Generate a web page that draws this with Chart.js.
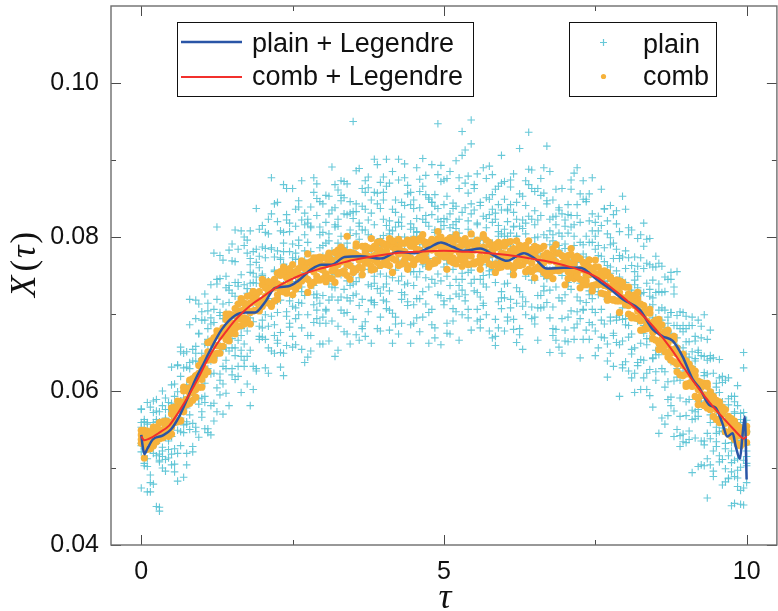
<!DOCTYPE html>
<html>
<head>
<meta charset="utf-8">
<script src="https://cdn.jsdelivr.net/npm/chart.js@4.4.1/dist/chart.umd.min.js"></script>
<style>
  html, body { margin: 0; padding: 0; background: #fff; overflow: hidden; }
  #wrap { position: relative; width: 782px; height: 611px; }
  canvas { display: block; }
</style>
</head>
<body>
<div id="wrap"><canvas id="chart" width="782" height="611"></canvas></div>
<script>
// Sampling grid in tau shared by the scattered samples
const tau = [
  0,0.05,0.1,0.15,0.2,0.25,0.3,0.35,0.4,0.45,
  0.5,0.55,0.6,0.65,0.7,0.75,0.8,0.85,0.9,0.95,
  1,1.05,1.1,1.15,1.2,1.25,1.3,1.35,1.4,1.45,
  1.5,1.55,1.6,1.65,1.7,1.75,1.8,1.85,1.9,1.95,
  2,2.05,2.1,2.15,2.2,2.25,2.3,2.35,2.4,2.45,
  2.5,2.55,2.6,2.65,2.7,2.75,2.8,2.85,2.9,2.95,
  3,3.05,3.1,3.15,3.2,3.25,3.3,3.35,3.4,3.45,
  3.5,3.55,3.6,3.65,3.7,3.75,3.8,3.85,3.9,3.95,
  4,4.05,4.1,4.15,4.2,4.25,4.3,4.35,4.4,4.45,
  4.5,4.55,4.6,4.65,4.7,4.75,4.8,4.85,4.9,4.95,
  5,5.05,5.1,5.15,5.2,5.25,5.3,5.35,5.4,5.45,
  5.5,5.55,5.6,5.65,5.7,5.75,5.8,5.85,5.9,5.95,
  6,6.05,6.1,6.15,6.2,6.25,6.3,6.35,6.4,6.45,
  6.5,6.55,6.6,6.65,6.7,6.75,6.8,6.85,6.9,6.95,
  7,7.05,7.1,7.15,7.2,7.25,7.3,7.35,7.4,7.45,
  7.5,7.55,7.6,7.65,7.7,7.75,7.8,7.85,7.9,7.95,
  8,8.05,8.1,8.15,8.2,8.25,8.3,8.35,8.4,8.45,
  8.5,8.55,8.6,8.65,8.7,8.75,8.8,8.85,8.9,8.95,
  9,9.05,9.1,9.15,9.2,9.25,9.3,9.35,9.4,9.45,
  9.5,9.55,9.6,9.65,9.7,9.75,9.8,9.85,9.9,9.95,
  10
];

// "plain" estimator samples, eight realisations per tau
const plainA = [
  0.0521,0.0551,0.0469,0.0547,0.0538,0.0574,0.0518,0.0559,0.0496,0.0576,
  0.0584,0.0525,0.0633,0.0562,0.0591,0.0519,0.0629,0.0597,0.0658,0.0590,
  0.0591,0.0692,0.0629,0.0738,0.0584,0.0813,0.0622,0.0677,0.0749,0.0581,
  0.0727,0.0615,0.0711,0.0672,0.0800,0.0702,0.0772,0.0602,0.0740,0.0671,
  0.0670,0.0744,0.0804,0.0697,0.0738,0.0845,0.0650,0.0781,0.0728,0.0807,
  0.0863,0.0708,0.0771,0.0682,0.0803,0.0746,0.0839,0.0725,0.0760,0.0661,
  0.0724,0.0819,0.0665,0.0782,0.0838,0.0753,0.0705,0.0872,0.0743,0.0809,
  0.0950,0.0726,0.0797,0.0684,0.0836,0.0781,0.0662,0.0816,0.0759,0.0871,
  0.0718,0.0815,0.0762,0.0885,0.0696,0.0800,0.0845,0.0738,0.0791,0.0662,
  0.0801,0.0695,0.0838,0.0770,0.0880,0.0735,0.0788,0.0855,0.0752,0.0660,
  0.0761,0.0876,0.0720,0.0816,0.0789,0.0666,0.0832,0.0772,0.0857,0.0740,
  0.0835,0.0706,0.0798,0.0750,0.0876,0.0773,0.0819,0.0659,0.0842,0.0729,
  0.0721,0.0801,0.0865,0.0758,0.0823,0.0681,0.0784,0.0841,0.0936,0.0887,
  0.0790,0.0708,0.0876,0.0730,0.0843,0.0757,0.0672,0.0816,0.0789,0.0717,
  0.0725,0.0842,0.0749,0.0883,0.0687,0.0773,0.0705,0.0846,0.0730,0.0808,
  0.0784,0.0656,0.0815,0.0723,0.0742,0.0841,0.0672,0.0756,0.0593,0.0774,
  0.0694,0.0803,0.0648,0.0722,0.0762,0.0602,0.0728,0.0685,0.0764,0.0643,
  0.0728,0.0545,0.0692,0.0605,0.0745,0.0638,0.0685,0.0550,0.0647,0.0702,
  0.0586,0.0685,0.0607,0.0639,0.0502,0.0611,0.0535,0.0667,0.0559,0.0623,
  0.0545,0.0598,0.0511,0.0567,0.0486,0.0593,0.0533,0.0497,0.0563,0.0452,
  0.0522
];
const plainB = [
  0.0576,0.0528,0.0512,0.0491,0.0559,0.0532,0.0551,0.0515,0.0591,0.0535,
  0.0504,0.0577,0.0549,0.0657,0.0546,0.0608,0.0587,0.0654,0.0547,0.0623,
  0.0640,0.0551,0.0681,0.0622,0.0657,0.0604,0.0776,0.0654,0.0629,0.0715,
  0.0668,0.0723,0.0632,0.0808,0.0661,0.0779,0.0695,0.0722,0.0626,0.0775,
  0.0750,0.0630,0.0720,0.0784,0.0672,0.0747,0.0773,0.0620,0.0822,0.0717,
  0.0724,0.0814,0.0699,0.0764,0.0637,0.0793,0.0741,0.0858,0.0694,0.0786,
  0.0843,0.0743,0.0795,0.0691,0.0770,0.0861,0.0722,0.0758,0.0829,0.0661,
  0.0739,0.0843,0.0711,0.0787,0.0768,0.0878,0.0736,0.0858,0.0681,0.0798,
  0.0802,0.0707,0.0870,0.0747,0.0793,0.0674,0.0826,0.0783,0.0716,0.0858,
  0.0737,0.0796,0.0755,0.0866,0.0713,0.0814,0.0894,0.0767,0.0823,0.0786,
  0.0842,0.0749,0.0799,0.0691,0.0899,0.0805,0.0731,0.0870,0.0754,0.0921,
  0.0767,0.0816,0.0693,0.0890,0.0735,0.0849,0.0758,0.0787,0.0682,0.0804,
  0.0810,0.0696,0.0752,0.0832,0.0663,0.0790,0.0853,0.0768,0.0868,0.0709,
  0.0687,0.0800,0.0755,0.0857,0.0715,0.0885,0.0773,0.0735,0.0657,0.0830,
  0.0814,0.0736,0.0828,0.0667,0.0767,0.0643,0.0790,0.0747,0.0856,0.0686,
  0.0702,0.0808,0.0739,0.0836,0.0661,0.0753,0.0772,0.0696,0.0807,0.0708,
  0.0759,0.0670,0.0731,0.0598,0.0708,0.0773,0.0640,0.0797,0.0668,0.0695,
  0.0647,0.0739,0.0565,0.0682,0.0612,0.0754,0.0637,0.0698,0.0567,0.0626,
  0.0648,0.0589,0.0696,0.0539,0.0650,0.0583,0.0699,0.0545,0.0642,0.0489,
  0.0589,0.0508,0.0575,0.0525,0.0590,0.0533,0.0454,0.0556,0.0501,0.0650,
  0.0503
];
const plainC = [
  0.0532,0.0563,0.0540,0.0524,0.0479,0.0589,0.0508,0.0527,0.0565,0.0552,
  0.0562,0.0609,0.0483,0.0547,0.0649,0.0578,0.0686,0.0558,0.0718,0.0540,
  0.0692,0.0643,0.0546,0.0695,0.0623,0.0745,0.0659,0.0609,0.0702,0.0694,
  0.0769,0.0682,0.0741,0.0645,0.0716,0.0609,0.0740,0.0781,0.0714,0.0684,
  0.0711,0.0773,0.0684,0.0877,0.0755,0.0662,0.0733,0.0806,0.0703,0.0753,
  0.0791,0.0742,0.0839,0.0714,0.0770,0.0672,0.0812,0.0737,0.0828,0.0714,
  0.0755,0.0704,0.0830,0.0774,0.0645,0.0792,0.0854,0.0732,0.0783,0.0717,
  0.0824,0.0757,0.0889,0.0719,0.0809,0.0703,0.0783,0.0749,0.0843,0.0727,
  0.0858,0.0786,0.0730,0.0836,0.0757,0.0819,0.0688,0.0895,0.0773,0.0810,
  0.0848,0.0824,0.0677,0.0790,0.0762,0.0702,0.0745,0.0840,0.0947,0.0724,
  0.0786,0.0853,0.0737,0.0837,0.0703,0.0823,0.0937,0.0717,0.0810,0.0679,
  0.0868,0.0728,0.0782,0.0827,0.0764,0.0678,0.0855,0.0741,0.0801,0.0906,
  0.0770,0.0820,0.0788,0.0680,0.0801,0.0915,0.0722,0.0804,0.0756,0.0778,
  0.0816,0.0778,0.0724,0.0749,0.0918,0.0695,0.0803,0.0862,0.0762,0.0778,
  0.0665,0.0776,0.0704,0.0789,0.0842,0.0717,0.0873,0.0679,0.0793,0.0753,
  0.0761,0.0725,0.0862,0.0687,0.0804,0.0696,0.0632,0.0817,0.0735,0.0853,
  0.0638,0.0724,0.0809,0.0744,0.0633,0.0726,0.0818,0.0660,0.0594,0.0744,
  0.0775,0.0678,0.0629,0.0557,0.0688,0.0581,0.0726,0.0618,0.0681,0.0544,
  0.0533,0.0628,0.0563,0.0626,0.0586,0.0669,0.0620,0.0578,0.0504,0.0585,
  0.0528,0.0576,0.0611,0.0482,0.0549,0.0495,0.0573,0.0512,0.0471,0.0556,
  0.0547
];
const plainD = [
  0.0553,0.0506,0.0557,0.0534,0.0572,0.0450,0.0449,0.0600,0.0540,0.0513,
  0.0541,0.0505,0.0599,0.0587,0.0488,0.0631,0.0569,0.0617,0.0608,0.0675,
  0.0624,0.0593,0.0714,0.0543,0.0706,0.0646,0.0702,0.0770,0.0597,0.0731,
  0.0629,0.0809,0.0666,0.0704,0.0632,0.0733,0.0581,0.0753,0.0767,0.0810,
  0.0815,0.0699,0.0743,0.0652,0.0774,0.0717,0.0808,0.0738,0.0863,0.0688,
  0.0671,0.0779,0.0740,0.0873,0.0724,0.0818,0.0652,0.0764,0.0721,0.0813,
  0.0789,0.0854,0.0739,0.0722,0.0816,0.0684,0.0770,0.0830,0.0702,0.0846,
  0.0693,0.0804,0.0763,0.0863,0.0671,0.0822,0.0848,0.0712,0.0779,0.0752,
  0.0765,0.0901,0.0809,0.0701,0.0848,0.0743,0.0784,0.0725,0.0867,0.0755,
  0.0688,0.0807,0.0859,0.0729,0.0828,0.0793,0.0845,0.0682,0.0774,0.0872,
  0.0712,0.0770,0.0885,0.0758,0.0820,0.0723,0.0763,0.0913,0.0695,0.0952,
  0.0745,0.0795,0.0841,0.0714,0.0812,0.0829,0.0669,0.0862,0.0770,0.0707,
  0.0849,0.0740,0.0708,0.0813,0.0778,0.0729,0.0654,0.0873,0.0827,0.0744,
  0.0744,0.0863,0.0828,0.0771,0.0758,0.0808,0.0709,0.0680,0.0835,0.0649,
  0.0785,0.0696,0.0862,0.0745,0.0722,0.0819,0.0746,0.0801,0.0667,0.0877,
  0.0646,0.0776,0.0706,0.0786,0.0763,0.0649,0.0745,0.0663,0.0776,0.0665,
  0.0836,0.0699,0.0674,0.0774,0.0734,0.0641,0.0685,0.0740,0.0723,0.0579,
  0.0614,0.0647,0.0728,0.0705,0.0650,0.0702,0.0541,0.0658,0.0591,0.0656,
  0.0681,0.0537,0.0651,0.0564,0.0692,0.0535,0.0591,0.0622,0.0598,0.0522,
  0.0610,0.0547,0.0548,0.0614,0.0516,0.0562,0.0489,0.0607,0.0536,0.0630,
  0.0481
];
const plainE = [
  0.0474,0.0540,0.0585,0.0469,0.0550,0.0560,0.0444,0.0522,0.0576,0.0560,
  0.0631,0.0560,0.0578,0.0529,0.0604,0.0557,0.0719,0.0521,0.0649,0.0713,
  0.0566,0.0661,0.0659,0.0639,0.0779,0.0573,0.0614,0.0713,0.0684,0.0652,
  0.0694,0.0646,0.0784,0.0681,0.0738,0.0645,0.0764,0.0690,0.0837,0.0712,
  0.0692,0.0785,0.0623,0.0740,0.0686,0.0820,0.0676,0.0765,0.0659,0.0781,
  0.0756,0.0660,0.0796,0.0735,0.0831,0.0699,0.0781,0.0689,0.0869,0.0761,
  0.0696,0.0775,0.0804,0.0891,0.0734,0.0814,0.0751,0.0677,0.0869,0.0766,
  0.0782,0.0673,0.0818,0.0752,0.0858,0.0738,0.0718,0.0901,0.0733,0.0837,
  0.0823,0.0749,0.0679,0.0795,0.0813,0.0874,0.0719,0.0800,0.0740,0.0842,
  0.0812,0.0720,0.0786,0.0902,0.0747,0.0851,0.0706,0.0809,0.0725,0.0820,
  0.0824,0.0675,0.0812,0.0795,0.0726,0.0863,0.0745,0.0786,0.0879,0.0764,
  0.0787,0.0882,0.0722,0.0801,0.0699,0.0751,0.0792,0.0823,0.0716,0.0870,
  0.0678,0.0836,0.0805,0.0786,0.0714,0.0856,0.0811,0.0699,0.0775,0.0823,
  0.0834,0.0666,0.0762,0.0709,0.0799,0.0790,0.0848,0.0777,0.0721,0.0863,
  0.0770,0.0805,0.0732,0.0816,0.0890,0.0740,0.0667,0.0774,0.0821,0.0706,
  0.0819,0.0754,0.0670,0.0743,0.0618,0.0790,0.0829,0.0740,0.0698,0.0630,
  0.0724,0.0626,0.0763,0.0656,0.0798,0.0715,0.0617,0.0623,0.0798,0.0712,
  0.0695,0.0766,0.0663,0.0748,0.0568,0.0675,0.0654,0.0755,0.0542,0.0677,
  0.0629,0.0664,0.0494,0.0671,0.0567,0.0504,0.0645,0.0461,0.0679,0.0565,
  0.0567,0.0641,0.0478,0.0547,0.0617,0.0451,0.0586,0.0476,0.0571,0.0510,
  0.0562
];
const plainF = [
  0.0559,0.0503,0.0542,0.0579,0.0519,0.0538,0.0573,0.0500,0.0563,0.0539,
  0.0518,0.0593,0.0634,0.0565,0.0630,0.0504,0.0605,0.0639,0.0553,0.0638,
  0.0703,0.0610,0.0551,0.0687,0.0662,0.0719,0.0595,0.0694,0.0640,0.0783,
  0.0621,0.0741,0.0714,0.0598,0.0789,0.0678,0.0754,0.0706,0.0784,0.0667,
  0.0752,0.0667,0.0823,0.0741,0.0649,0.0782,0.0718,0.0868,0.0697,0.0750,
  0.0657,0.0771,0.0715,0.0822,0.0754,0.0644,0.0814,0.0770,0.0705,0.0846,
  0.0806,0.0688,0.0775,0.0735,0.0868,0.0718,0.0847,0.0786,0.0674,0.0802,
  0.0752,0.0833,0.0666,0.0809,0.0767,0.0864,0.0717,0.0783,0.0894,0.0696,
  0.0848,0.0739,0.0804,0.0662,0.0832,0.0770,0.0814,0.0877,0.0711,0.0794,
  0.0755,0.0890,0.0720,0.0823,0.0778,0.0849,0.0686,0.0806,0.0837,0.0743,
  0.0874,0.0765,0.0830,0.0707,0.0811,0.0737,0.0906,0.0725,0.0792,0.0843,
  0.0730,0.0818,0.0682,0.0796,0.0851,0.0756,0.0836,0.0671,0.0807,0.0781,
  0.0801,0.0691,0.0842,0.0882,0.0734,0.0787,0.0710,0.0818,0.0753,0.0863,
  0.0696,0.0822,0.0775,0.0736,0.0847,0.0650,0.0795,0.0827,0.0805,0.0750,
  0.0822,0.0741,0.0874,0.0682,0.0775,0.0793,0.0706,0.0849,0.0689,0.0720,
  0.0735,0.0827,0.0692,0.0768,0.0639,0.0799,0.0740,0.0692,0.0772,0.0742,
  0.0782,0.0685,0.0728,0.0623,0.0749,0.0803,0.0675,0.0766,0.0628,0.0721,
  0.0653,0.0729,0.0762,0.0625,0.0677,0.0592,0.0735,0.0629,0.0703,0.0534,
  0.0664,0.0548,0.0632,0.0665,0.0576,0.0684,0.0503,0.0598,0.0538,0.0643,
  0.0553,0.0617,0.0552,0.0499,0.0582,0.0558,0.0510,0.0581,0.0453,0.0548,
  0.0530
];
const plainG = [
  0.0529,0.0560,0.0502,0.0548,0.0587,0.0516,0.0560,0.0541,0.0511,0.0585,
  0.0608,0.0495,0.0586,0.0619,0.0556,0.0651,0.0550,0.0607,0.0694,0.0583,
  0.0573,0.0726,0.0667,0.0581,0.0689,0.0647,0.0746,0.0570,0.0734,0.0673,
  0.0791,0.0656,0.0619,0.0751,0.0685,0.0796,0.0653,0.0741,0.0629,0.0760,
  0.0682,0.0806,0.0714,0.0786,0.0843,0.0666,0.0771,0.0649,0.0760,0.0818,
  0.0773,0.0694,0.0847,0.0729,0.0816,0.0761,0.0672,0.0877,0.0726,0.0803,
  0.0661,0.0792,0.0718,0.0835,0.0751,0.0823,0.0873,0.0701,0.0792,0.0737,
  0.0833,0.0742,0.0814,0.0681,0.0873,0.0758,0.0800,0.0715,0.0857,0.0787,
  0.0735,0.0866,0.0705,0.0808,0.0787,0.0901,0.0728,0.0841,0.0760,0.0686,
  0.0837,0.0748,0.0799,0.0696,0.0855,0.0772,0.0829,0.0669,0.0881,0.0810,
  0.0717,0.0823,0.0674,0.0803,0.0840,0.0877,0.0753,0.0793,0.0706,0.0830,
  0.0797,0.0691,0.0845,0.0739,0.0787,0.0892,0.0767,0.0831,0.0866,0.0721,
  0.0872,0.0780,0.0719,0.0814,0.0845,0.0673,0.0822,0.0749,0.0783,0.0694,
  0.0799,0.0724,0.0854,0.0890,0.0746,0.0823,0.0681,0.0761,0.0838,0.0801,
  0.0679,0.0829,0.0770,0.0801,0.0703,0.0856,0.0778,0.0715,0.0760,0.0830,
  0.0801,0.0729,0.0775,0.0669,0.0821,0.0691,0.0792,0.0834,0.0660,0.0693,
  0.0686,0.0812,0.0654,0.0738,0.0691,0.0662,0.0759,0.0602,0.0709,0.0761,
  0.0761,0.0655,0.0708,0.0676,0.0589,0.0702,0.0613,0.0669,0.0528,0.0685,
  0.0568,0.0644,0.0685,0.0573,0.0653,0.0587,0.0624,0.0512,0.0646,0.0597,
  0.0605,0.0516,0.0586,0.0570,0.0487,0.0522,0.0593,0.0530,0.0559,0.0474,
  0.0506
];
const plainH = [
  0.0577,0.0532,0.0559,0.0481,0.0551,0.0563,0.0510,0.0581,0.0555,0.0524,
  0.0541,0.0577,0.0519,0.0651,0.0588,0.0560,0.0637,0.0528,0.0639,0.0674,
  0.0649,0.0585,0.0704,0.0662,0.0561,0.0739,0.0698,0.0632,0.0656,0.0737,
  0.0656,0.0768,0.0736,0.0653,0.0640,0.0727,0.0808,0.0632,0.0748,0.0728,
  0.0787,0.0734,0.0656,0.0830,0.0757,0.0702,0.0631,0.0792,0.0829,0.0683,
  0.0710,0.0836,0.0789,0.0654,0.0782,0.0823,0.0737,0.0712,0.0850,0.0688,
  0.0775,0.0706,0.0853,0.0754,0.0813,0.0653,0.0801,0.0851,0.0721,0.0831,
  0.0724,0.0886,0.0747,0.0840,0.0690,0.0803,0.0831,0.0740,0.0789,0.0678,
  0.0878,0.0716,0.0821,0.0797,0.0687,0.0819,0.0749,0.0768,0.0856,0.0817,
  0.0712,0.0806,0.0875,0.0764,0.0819,0.0662,0.0845,0.0740,0.0790,0.0893,
  0.0815,0.0688,0.0789,0.0844,0.0745,0.0797,0.0699,0.0838,0.0821,0.0757,
  0.0863,0.0792,0.0745,0.0711,0.0824,0.0773,0.0881,0.0693,0.0815,0.0835,
  0.0739,0.0834,0.0874,0.0693,0.0801,0.0814,0.0781,0.0716,0.0888,0.0775,
  0.0859,0.0786,0.0708,0.0803,0.0777,0.0731,0.0826,0.0666,0.0783,0.0694,
  0.0791,0.0664,0.0813,0.0762,0.0828,0.0694,0.0849,0.0768,0.0725,0.0793,
  0.0678,0.0789,0.0753,0.0837,0.0719,0.0761,0.0675,0.0784,0.0748,0.0634,
  0.0741,0.0773,0.0617,0.0755,0.0637,0.0727,0.0788,0.0668,0.0732,0.0642,
  0.0625,0.0705,0.0653,0.0729,0.0696,0.0745,0.0574,0.0685,0.0614,0.0647,
  0.0697,0.0611,0.0575,0.0642,0.0612,0.0646,0.0530,0.0640,0.0569,0.0496,
  0.0534,0.0582,0.0619,0.0532,0.0565,0.0507,0.0571,0.0487,0.0536,0.0572,
  0.0515
];

// "comb" estimator samples, four realisations per tau
const combA = [
  0.0549,0.0531,0.0548,0.0536,0.0550,0.0534,0.0550,0.0560,0.0544,0.0560,
  0.0553,0.0579,0.0560,0.0580,0.0600,0.0582,0.0597,0.0588,0.0620,0.0623,
  0.0630,0.0621,0.0651,0.0642,0.0669,0.0659,0.0649,0.0680,0.0678,0.0673,
  0.0699,0.0688,0.0703,0.0685,0.0706,0.0723,0.0702,0.0719,0.0705,0.0729,
  0.0717,0.0738,0.0714,0.0738,0.0734,0.0725,0.0755,0.0737,0.0753,0.0736,
  0.0752,0.0732,0.0759,0.0749,0.0766,0.0745,0.0758,0.0773,0.0744,0.0759,
  0.0757,0.0773,0.0747,0.0770,0.0756,0.0783,0.0768,0.0756,0.0801,0.0763,
  0.0779,0.0757,0.0775,0.0788,0.0766,0.0775,0.0762,0.0788,0.0774,0.0783,
  0.0766,0.0782,0.0793,0.0772,0.0789,0.0763,0.0782,0.0792,0.0776,0.0788,
  0.0788,0.0771,0.0798,0.0777,0.0793,0.0767,0.0783,0.0791,0.0769,0.0787,
  0.0774,0.0796,0.0780,0.0792,0.0765,0.0787,0.0770,0.0798,0.0782,0.0775,
  0.0790,0.0768,0.0784,0.0803,0.0772,0.0780,0.0763,0.0786,0.0775,0.0790,
  0.0771,0.0793,0.0763,0.0777,0.0784,0.0763,0.0788,0.0769,0.0779,0.0755,
  0.0779,0.0761,0.0785,0.0767,0.0779,0.0753,0.0771,0.0779,0.0758,0.0765,
  0.0760,0.0776,0.0751,0.0766,0.0775,0.0745,0.0757,0.0738,0.0761,0.0754,
  0.0761,0.0738,0.0749,0.0726,0.0754,0.0732,0.0741,0.0717,0.0728,0.0736,
  0.0712,0.0726,0.0698,0.0711,0.0720,0.0691,0.0703,0.0691,0.0701,0.0668,
  0.0689,0.0662,0.0686,0.0659,0.0662,0.0669,0.0638,0.0648,0.0621,0.0642,
  0.0622,0.0635,0.0606,0.0620,0.0590,0.0605,0.0610,0.0587,0.0592,0.0567,
  0.0582,0.0559,0.0579,0.0558,0.0567,0.0545,0.0561,0.0542,0.0550,0.0532,
  0.0546
];
const combB = [
  0.0532,0.0549,0.0535,0.0546,0.0529,0.0547,0.0538,0.0549,0.0561,0.0550,
  0.0570,0.0562,0.0578,0.0561,0.0581,0.0603,0.0584,0.0609,0.0602,0.0633,
  0.0615,0.0641,0.0640,0.0665,0.0646,0.0673,0.0671,0.0658,0.0693,0.0685,
  0.0680,0.0707,0.0684,0.0704,0.0687,0.0706,0.0724,0.0704,0.0725,0.0717,
  0.0738,0.0723,0.0734,0.0713,0.0745,0.0739,0.0730,0.0754,0.0727,0.0751,
  0.0736,0.0752,0.0742,0.0766,0.0747,0.0766,0.0737,0.0755,0.0765,0.0744,
  0.0773,0.0752,0.0767,0.0746,0.0780,0.0764,0.0754,0.0776,0.0764,0.0780,
  0.0754,0.0777,0.0761,0.0774,0.0788,0.0766,0.0785,0.0770,0.0793,0.0763,
  0.0791,0.0764,0.0776,0.0787,0.0770,0.0785,0.0765,0.0781,0.0796,0.0773,
  0.0767,0.0784,0.0773,0.0795,0.0780,0.0792,0.0765,0.0788,0.0798,0.0776,
  0.0794,0.0775,0.0798,0.0767,0.0784,0.0771,0.0789,0.0778,0.0764,0.0793,
  0.0765,0.0789,0.0775,0.0770,0.0796,0.0765,0.0785,0.0790,0.0760,0.0779,
  0.0788,0.0773,0.0782,0.0759,0.0767,0.0789,0.0773,0.0785,0.0758,0.0777,
  0.0758,0.0786,0.0766,0.0776,0.0750,0.0777,0.0756,0.0768,0.0779,0.0758,
  0.0773,0.0755,0.0764,0.0746,0.0753,0.0772,0.0738,0.0765,0.0751,0.0737,
  0.0738,0.0761,0.0727,0.0749,0.0736,0.0748,0.0718,0.0735,0.0743,0.0717,
  0.0735,0.0711,0.0720,0.0695,0.0704,0.0713,0.0680,0.0703,0.0682,0.0689,
  0.0666,0.0682,0.0667,0.0677,0.0644,0.0654,0.0666,0.0635,0.0642,0.0620,
  0.0639,0.0610,0.0619,0.0593,0.0613,0.0594,0.0581,0.0606,0.0576,0.0582,
  0.0563,0.0575,0.0560,0.0576,0.0544,0.0564,0.0547,0.0555,0.0529,0.0546,
  0.0533
];
const combC = [
  0.0543,0.0513,0.0543,0.0525,0.0553,0.0553,0.0545,0.0539,0.0554,0.0541,
  0.0544,0.0570,0.0587,0.0586,0.0573,0.0589,0.0614,0.0599,0.0613,0.0605,
  0.0640,0.0629,0.0625,0.0650,0.0660,0.0649,0.0677,0.0673,0.0667,0.0700,
  0.0688,0.0681,0.0713,0.0694,0.0714,0.0693,0.0714,0.0729,0.0715,0.0704,
  0.0710,0.0734,0.0729,0.0733,0.0717,0.0753,0.0737,0.0729,0.0747,0.0759,
  0.0764,0.0737,0.0751,0.0743,0.0759,0.0728,0.0768,0.0741,0.0773,0.0767,
  0.0746,0.0764,0.0779,0.0764,0.0758,0.0752,0.0776,0.0782,0.0750,0.0773,
  0.0773,0.0788,0.0770,0.0759,0.0781,0.0786,0.0757,0.0776,0.0767,0.0794,
  0.0779,0.0788,0.0763,0.0795,0.0783,0.0778,0.0792,0.0770,0.0763,0.0795,
  0.0797,0.0794,0.0783,0.0769,0.0772,0.0786,0.0793,0.0766,0.0779,0.0800,
  0.0781,0.0787,0.0769,0.0783,0.0799,0.0796,0.0777,0.0769,0.0790,0.0765,
  0.0783,0.0796,0.0766,0.0787,0.0781,0.0790,0.0778,0.0765,0.0793,0.0768,
  0.0778,0.0762,0.0794,0.0785,0.0763,0.0778,0.0764,0.0789,0.0775,0.0784,
  0.0788,0.0772,0.0758,0.0754,0.0773,0.0769,0.0785,0.0757,0.0764,0.0776,
  0.0738,0.0767,0.0777,0.0773,0.0749,0.0758,0.0767,0.0750,0.0770,0.0758,
  0.0752,0.0747,0.0755,0.0737,0.0725,0.0719,0.0736,0.0744,0.0717,0.0721,
  0.0721,0.0700,0.0713,0.0725,0.0694,0.0698,0.0711,0.0684,0.0706,0.0676,
  0.0684,0.0693,0.0658,0.0666,0.0671,0.0640,0.0652,0.0656,0.0647,0.0633,
  0.0609,0.0622,0.0629,0.0614,0.0602,0.0611,0.0595,0.0578,0.0599,0.0589,
  0.0576,0.0586,0.0570,0.0547,0.0560,0.0552,0.0537,0.0549,0.0543,0.0551,
  0.0554
];
const combD = [
  0.0537,0.0546,0.0524,0.0544,0.0543,0.0536,0.0559,0.0546,0.0558,0.0543,
  0.0578,0.0559,0.0575,0.0562,0.0605,0.0589,0.0604,0.0616,0.0592,0.0621,
  0.0605,0.0643,0.0663,0.0645,0.0640,0.0678,0.0658,0.0682,0.0700,0.0665,
  0.0698,0.0674,0.0694,0.0720,0.0695,0.0713,0.0687,0.0729,0.0718,0.0707,
  0.0745,0.0720,0.0742,0.0710,0.0736,0.0719,0.0750,0.0761,0.0731,0.0743,
  0.0725,0.0755,0.0737,0.0769,0.0749,0.0778,0.0740,0.0761,0.0749,0.0774,
  0.0762,0.0742,0.0775,0.0756,0.0741,0.0774,0.0787,0.0753,0.0772,0.0745,
  0.0759,0.0791,0.0770,0.0751,0.0788,0.0769,0.0798,0.0758,0.0784,0.0777,
  0.0791,0.0768,0.0798,0.0754,0.0783,0.0797,0.0765,0.0777,0.0758,0.0791,
  0.0764,0.0783,0.0775,0.0803,0.0790,0.0761,0.0797,0.0770,0.0807,0.0780,
  0.0787,0.0758,0.0799,0.0773,0.0803,0.0780,0.0762,0.0793,0.0777,0.0804,
  0.0767,0.0786,0.0758,0.0800,0.0774,0.0793,0.0780,0.0754,0.0787,0.0761,
  0.0793,0.0766,0.0779,0.0751,0.0795,0.0772,0.0785,0.0755,0.0795,0.0766,
  0.0747,0.0783,0.0766,0.0788,0.0753,0.0775,0.0746,0.0790,0.0756,0.0766,
  0.0772,0.0746,0.0785,0.0757,0.0772,0.0734,0.0759,0.0743,0.0770,0.0730,
  0.0770,0.0739,0.0746,0.0756,0.0718,0.0746,0.0719,0.0735,0.0702,0.0741,
  0.0714,0.0735,0.0695,0.0716,0.0728,0.0679,0.0698,0.0681,0.0702,0.0681,
  0.0692,0.0654,0.0674,0.0651,0.0679,0.0649,0.0671,0.0625,0.0645,0.0648,
  0.0606,0.0630,0.0612,0.0626,0.0582,0.0605,0.0582,0.0610,0.0576,0.0593,
  0.0588,0.0563,0.0576,0.0547,0.0561,0.0541,0.0557,0.0531,0.0552,0.0535,
  0.0548
];

// Legendre-series reconstructions
const plainFitTau = [
  0,0.02,0.05,0.1,0.19,0.35,0.49,0.62,0.76,0.9,
  1.02,1.12,1.33,1.55,1.72,1.88,2.05,2.21,2.43,2.59,
  2.81,2.98,3.14,3.36,3.63,3.96,4.24,4.51,4.75,4.95,
  5.15,5.33,5.6,5.85,6.04,6.32,6.5,6.7,6.97,7.25,
  7.52,7.75,7.96,8.23,8.45,8.61,8.78,8.94,9.11,9.22,
  9.38,9.49,9.6,9.68,9.77,9.82,9.89,9.93,9.97,10
];
const plainFitX = [
  0.0543,0.0530,0.0518,0.0525,0.0537,0.0542,0.0550,0.0566,0.0590,0.0616,
  0.0634,0.0650,0.0680,0.0698,0.0702,0.0702,0.0716,0.0734,0.0736,0.0743,
  0.0758,0.0764,0.0764,0.0774,0.0775,0.0772,0.0781,0.0779,0.0786,0.0793,
  0.0787,0.0782,0.0785,0.0775,0.0769,0.0779,0.0772,0.0759,0.0760,0.0760,
  0.0745,0.0732,0.0719,0.0706,0.0680,0.0671,0.0665,0.0645,0.0615,0.0604,
  0.0582,0.0578,0.0558,0.0541,0.0545,0.0528,0.0512,0.0541,0.0567,0.0485
];
const combFitTau = [
  0,0.05,0.13,0.3,0.46,0.62,0.79,0.95,1.09,1.25,
  1.4,1.55,1.7,1.85,2,2.2,2.4,2.65,2.92,3.2,
  3.5,3.85,4.2,4.6,5,5.3,5.6,5.9,6.2,6.5,
  6.8,7,7.25,7.52,7.75,8,8.25,8.5,8.75,9,
  9.2,9.4,9.6,9.8,9.9,9.95,10
];
const combFitX = [
  0.0541,0.0536,0.0538,0.0546,0.0555,0.0573,0.0595,0.0618,0.0640,0.0661,
  0.0677,0.0692,0.0704,0.0714,0.0722,0.0733,0.0742,0.0751,0.0758,0.0764,
  0.0770,0.0775,0.0779,0.0781,0.0782,0.0781,0.0780,0.0778,0.0775,0.0771,
  0.0767,0.0763,0.0757,0.0748,0.0735,0.0719,0.0701,0.0680,0.0655,0.0626,
  0.0604,0.0584,0.0566,0.0549,0.0541,0.0538,0.0541
];

// Axis ticks
const xTickValues = [0, 2.5, 5, 7.5, 10];
const xTickLabels = ['0', '', '5', '', '10'];
const yTickValues = [0.04, 0.05, 0.06, 0.07, 0.08, 0.09, 0.10];
const yTickLabels = ['0.04', '', '0.06', '', '0.08', '', '0.10'];

const COLORS = {
  plain: 'rgba(86,194,212,0.9)',
  comb: '#f6b23b',
  plainFit: '#2a55a6',
  combFit: '#f2302c',
  frame: '#6d6d6d',
  tick: '#4a4a4a',
  text: '#111111'
};
const SANS = '"Liberation Sans", Arial, Helvetica, sans-serif';
const SERIF = '"Liberation Serif", "Times New Roman", serif';

const pairUp = (xs, ys) => xs.map((x, i) => ({ x, y: ys[i] }));
const plainPoints = [plainA, plainB, plainC, plainD, plainE, plainF, plainG, plainH]
  .flatMap(s => pairUp(tau, s));
const combPoints = [combA, combB, combC, combD].flatMap(s => pairUp(tau, s));

// Boxed axes with inward ticks on all four sides
const framePlugin = {
  id: 'frame',
  afterDatasetsDraw(chart) {
    const { ctx, chartArea: a, scales } = chart;
    const xs = scales.x, ys = scales.y;
    ctx.save();
    ctx.lineWidth = 1;
    ctx.strokeStyle = COLORS.tick;
    ctx.beginPath();
    xTickValues.forEach((v, i) => {
      const px = Math.round(xs.getPixelForValue(v)) + 0.5;
      const len = xTickLabels[i] ? 10 : 5;
      ctx.moveTo(px, a.bottom); ctx.lineTo(px, a.bottom - len);
      ctx.moveTo(px, a.top); ctx.lineTo(px, a.top + len);
    });
    yTickValues.forEach((v, i) => {
      const py = Math.round(ys.getPixelForValue(v)) + 0.5;
      const len = yTickLabels[i] ? 10 : 5;
      ctx.moveTo(a.left, py); ctx.lineTo(a.left + len, py);
      ctx.moveTo(a.right, py); ctx.lineTo(a.right - len, py);
    });
    ctx.stroke();
    ctx.lineWidth = 1.4;
    ctx.strokeStyle = COLORS.frame;
    ctx.strokeRect(a.left, a.top, a.right - a.left, a.bottom - a.top);
    ctx.restore();
  }
};

// Two boxed legends and the axis titles
const annotatePlugin = {
  id: 'annotate',
  afterDraw(chart) {
    const ctx = chart.ctx;
    ctx.save();
    // legend for the fitted curves
    ctx.fillStyle = '#fff';
    ctx.strokeStyle = '#111';
    ctx.lineWidth = 1;
    ctx.fillRect(177.5, 22.5, 296, 74);
    ctx.strokeRect(177.5, 22.5, 296, 74);
    ctx.lineWidth = 2.5;
    ctx.strokeStyle = COLORS.plainFit;
    ctx.beginPath(); ctx.moveTo(181, 42); ctx.lineTo(242, 42); ctx.stroke();
    ctx.lineWidth = 2;
    ctx.strokeStyle = COLORS.combFit;
    ctx.beginPath(); ctx.moveTo(181, 77); ctx.lineTo(242, 77); ctx.stroke();
    ctx.fillStyle = COLORS.text;
    ctx.font = '27px ' + SANS;
    ctx.textBaseline = 'alphabetic';
    ctx.textAlign = 'left';
    ctx.fillText('plain + Legendre', 252, 52);
    ctx.fillText('comb + Legendre', 252, 85);

    // legend for the samples
    ctx.fillStyle = '#fff';
    ctx.strokeStyle = '#111';
    ctx.lineWidth = 1;
    ctx.fillRect(569.5, 22.5, 147, 74);
    ctx.strokeRect(569.5, 22.5, 147, 74);
    ctx.strokeStyle = COLORS.plain;
    ctx.lineWidth = 1.2;
    ctx.beginPath();
    ctx.moveTo(600, 42.5); ctx.lineTo(607, 42.5);
    ctx.moveTo(603.5, 39); ctx.lineTo(603.5, 46);
    ctx.stroke();
    ctx.fillStyle = COLORS.comb;
    ctx.beginPath(); ctx.arc(603.5, 76.5, 2.6, 0, Math.PI * 2); ctx.fill();
    ctx.fillStyle = COLORS.text;
    ctx.fillText('plain', 643, 53);
    ctx.fillText('comb', 643, 85);

    // x-axis title
    ctx.font = 'italic 36px ' + SERIF;
    ctx.textAlign = 'center';
    ctx.fillText('\u03C4', 445, 608);

    // y-axis title, rotated
    ctx.translate(35, 297);
    ctx.rotate(-Math.PI / 2);
    ctx.textAlign = 'left';
    const parts = [
      ['X', 'italic 35px ' + SERIF, 4],
      ['(', '35px ' + SERIF, 2],
      ['\u03C4', 'italic 35px ' + SERIF, 2],
      [')', '35px ' + SERIF, 0]
    ];
    let cx = 0;
    parts.forEach(([t, f, gap]) => {
      ctx.font = f;
      ctx.fillText(t, cx, 0);
      cx += ctx.measureText(t).width + gap;
    });
    ctx.restore();
  }
};

const tickFont = { family: SANS, size: 25 };

new Chart(document.getElementById('chart'), {
  type: 'scatter',
  data: {
    datasets: [
      {
        label: 'comb + Legendre',
        data: pairUp(combFitTau, combFitX),
        showLine: true,
        borderColor: COLORS.combFit,
        borderWidth: 2,
        pointRadius: 0,
        cubicInterpolationMode: 'monotone',
        order: 0
      },
      {
        label: 'plain + Legendre',
        data: pairUp(plainFitTau, plainFitX),
        showLine: true,
        borderColor: COLORS.plainFit,
        borderWidth: 2.5,
        pointRadius: 0,
        cubicInterpolationMode: 'monotone',
        order: 1
      },
      {
        label: 'comb',
        data: combPoints,
        pointStyle: 'circle',
        pointRadius: 3.6,
        backgroundColor: COLORS.comb,
        borderColor: COLORS.comb,
        pointBackgroundColor: COLORS.comb,
        pointBorderWidth: 0,
        order: 2
      },
      {
        label: 'plain',
        data: plainPoints,
        pointStyle: 'cross',
        pointRadius: 3.8,
        borderColor: COLORS.plain,
        pointBorderColor: COLORS.plain,
        pointBorderWidth: 1.1,
        order: 3
      }
    ]
  },
  options: {
    responsive: false,
    animation: false,
    devicePixelRatio: 1,
    layout: { padding: { left: 0, right: 1, top: 6, bottom: 0 } },
    plugins: { legend: { display: false }, tooltip: { enabled: false } },
    scales: {
      x: {
        type: 'linear',
        min: -0.5,
        max: 10.5,
        afterBuildTicks: s => { s.ticks = xTickValues.map(v => ({ value: v })); },
        afterFit: s => { s.height = 66; s.paddingLeft = 0; s.paddingRight = 0; },
        grid: { display: false, drawTicks: false },
        border: { display: false },
        ticks: {
          autoSkip: false, maxRotation: 0, padding: 12,
          color: COLORS.text, font: tickFont,
          callback: (v, i) => xTickLabels[i]
        }
      },
      y: {
        type: 'linear',
        min: 0.04,
        max: 0.11,
        afterBuildTicks: s => { s.ticks = yTickValues.map(v => ({ value: v })); },
        afterFit: s => { s.width = 111; s.paddingTop = 0; s.paddingBottom = 0; },
        grid: { display: false, drawTicks: false },
        border: { display: false },
        ticks: {
          autoSkip: false, padding: 12,
          color: COLORS.text, font: tickFont,
          callback: (v, i) => yTickLabels[i]
        }
      }
    }
  },
  plugins: [framePlugin, annotatePlugin]
});
</script>
</body>
</html>
